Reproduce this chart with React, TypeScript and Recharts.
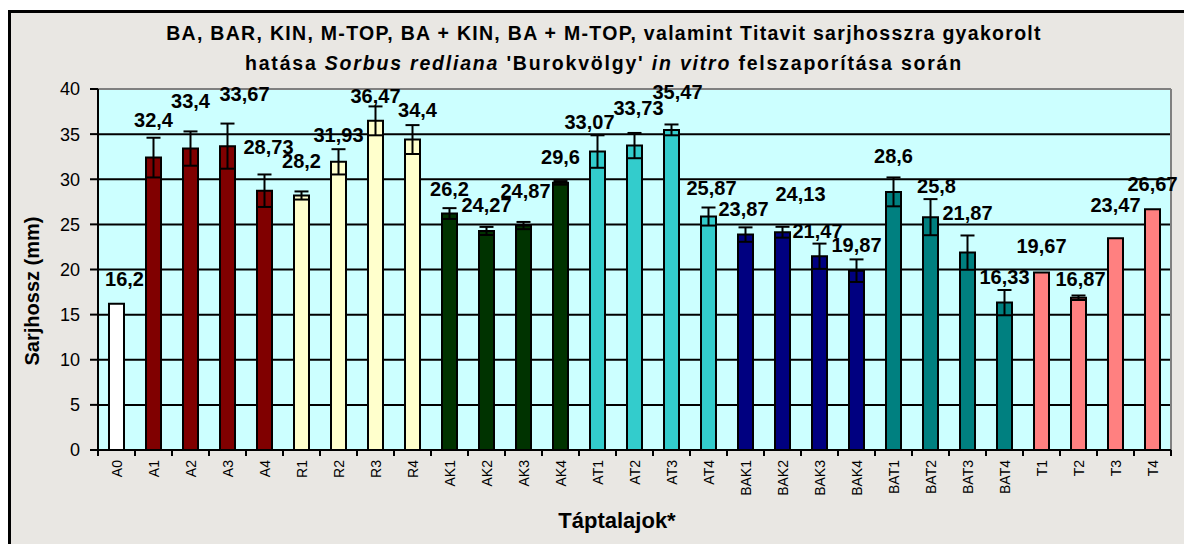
import React from 'react';
import { BarChart, Bar, XAxis, YAxis, CartesianGrid, ErrorBar, Cell, LabelList, ReferenceLine } from 'recharts';

const categories = ['A0','A1','A2','A3','A4','R1','R2','R3','R4','AK1','AK2','AK3','AK4','AT1','AT2','AT3','AT4','BAK1','BAK2','BAK3','BAK4','BAT1','BAT2','BAT3','BAT4','T1','T2','T3','T4'];
const values = [16.2,32.4,33.4,33.67,28.73,28.2,31.93,36.47,34.4,26.2,24.27,24.87,29.6,33.07,33.73,35.47,25.87,23.87,24.13,21.47,19.87,28.6,25.8,21.87,16.33,19.67,16.87,23.47,26.67];
const errors = [0,2.2,1.9,2.5,1.8,0.45,1.4,1.6,1.6,0.6,0.45,0.4,0.2,1.8,1.4,0.6,1.0,0.8,0.6,1.4,1.25,1.6,2.0,1.9,1.4,0,0.25,0,0];
const yTicks = [0,5,10,15,20,25,30,35,40];

// Data-label placement nudges (pixels), as the labels were dragged in the original
const labelLift = [25,38,48,52,44,34,27,25,30,25,26,35,26,30,38,38,29,26,38,25,26,36,31,40,26,26,19,33,25];
const labelShift = [8,0,0,17,4,0,0,0,5,0,0,2,0,-8,4,6,3,-2,18,-2,0,0,6,0,0,0,2,0,0];

const groupColors: Record<string, string> = {
  A0: '#ffffff', A: '#800000', R: '#ffffcc', AK: '#003300', AT: '#33cccc', BAK: '#000080', BAT: '#008080', T: '#ff8080',
};
const groupOf = (c: string) => (c === 'A0' ? 'A0' : c.replace(/\d+$/, ''));

const data = categories.map((c, i) => ({ name: c, value: values[i], err: errors[i] }));

const W = 1184, H = 544;
const M = { top: 89, right: 13, bottom: 0, left: 0 };
const YW = 98, XH = 94;
const PLOT_W = W - M.left - M.right - YW;
const BAND = PLOT_W / categories.length;
const FONT = '"Liberation Sans", Arial, sans-serif';

const fmt = (v: number) => String(v).replace('.', ',');

const XTick = (props: any) => {
  const { x, y, payload, index } = props;
  const last = index === categories.length - 1;
  return (
    <g>
      <line x1={x - BAND / 2} x2={x - BAND / 2} y1={y - 10} y2={y - 4} stroke="#000" strokeWidth={2} />
      {last && <line x1={x + BAND / 2} x2={x + BAND / 2} y1={y - 10} y2={y - 4} stroke="#000" strokeWidth={2} />}
      <text transform={`translate(${x},${y}) rotate(-90)`} textAnchor="end" dominantBaseline="central" fontFamily={FONT} fontSize={14} fill="#000">{payload.value}</text>
    </g>
  );
};

const renderLabel = (props: any) => {
  const { x, y, width, value, index } = props;
  return (
    <text x={x + width / 2 + (labelShift[index] || 0)} y={y - (labelLift[index] || 25)} textAnchor="middle" dominantBaseline="central"
      fontFamily={FONT} fontWeight="bold" fontSize={20} fill="#000">{fmt(value)}</text>
  );
};

export default function App() {
  return (
    <div style={{ position: 'absolute', left: 0, top: 0, width: W, height: H, overflow: 'hidden', background: '#fff' }}>
      <div style={{ position: 'absolute', left: 8, top: 10, width: 1220, height: 600, border: '3px solid #000', background: '#e9e7e3', boxSizing: 'border-box' }} />
      <div style={{ position: 'absolute', left: 0, top: 18, width: 1208, textAlign: 'center', font: `bold 19.5px ${FONT}`, lineHeight: '30px', color: '#000' }}>
        <div style={{ letterSpacing: '1.3px' }}>BA, BAR, KIN, M-TOP, BA + KIN, BA + M-TOP, valamint Titavit sarjhosszra gyakorolt</div>
        <div style={{ letterSpacing: '1.8px' }}>hatása <i>Sorbus redliana</i> 'Burokvölgy' <i>in vitro</i> felszaporítása során</div>
      </div>
      <div style={{ position: 'absolute', left: 0, top: 0 }}>
        <BarChart width={W} height={H} data={data} margin={M} barSize={15}>
          <CartesianGrid vertical={false} stroke="#000" strokeWidth={2} fill="#ccffff" fillOpacity={1} strokeOpacity={1} />
          <CartesianGrid horizontal={false} verticalPoints={[W - M.right]} stroke="#808080" strokeWidth={2} />
          <XAxis dataKey="name" height={XH} interval={0} tickLine={false} tickSize={6} tickMargin={4} axisLine={{ stroke: '#000', strokeWidth: 2 }} tick={<XTick />} />
          <YAxis width={YW} domain={[0, 40]} ticks={yTicks} tickSize={8} tickMargin={10} allowDataOverflow
            axisLine={{ stroke: '#000', strokeWidth: 2 }} tickLine={{ stroke: '#000', strokeWidth: 2 }}
            tick={{ fill: '#000', fontSize: 18, fontFamily: FONT }} />
          <ReferenceLine y={40} stroke="#808080" strokeWidth={2} />
          <Bar dataKey="value" isAnimationActive={false} stroke="#000" strokeWidth={2}>
            {data.map((d) => (
              <Cell key={d.name} fill={groupColors[groupOf(d.name)]} />
            ))}
            <ErrorBar dataKey="err" width={7} stroke="#000" strokeWidth={2} direction="y" />
            <LabelList dataKey="value" content={renderLabel} />
          </Bar>
        </BarChart>
      </div>
      <svg style={{ position: 'absolute', left: 0, top: 0 }} width={W} height={H}>
        <text transform="translate(32,291) rotate(-90)" textAnchor="middle" dominantBaseline="central" fontFamily={FONT} fontWeight="bold" fontSize={20} fill="#000">Sarjhossz (mm)</text>
        <text x={617} y={520} textAnchor="middle" dominantBaseline="central" fontFamily={FONT} fontWeight="bold" fontSize={22} fill="#000">Táptalajok*</text>
      </svg>
    </div>
  );
}
